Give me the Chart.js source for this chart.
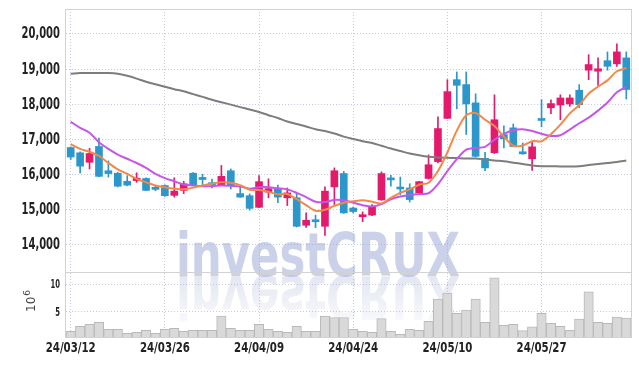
<!DOCTYPE html>
<html><head><meta charset="utf-8">
<script src="https://cdn.jsdelivr.net/npm/chart.js@4.4.1/dist/chart.umd.min.js"></script>
<style>html,body{margin:0;padding:0;background:#fff;}canvas{display:block;}</style>
</head><body>
<canvas id="c" width="639" height="366"></canvas>
<script>
const dates = ['24/03/12','24/03/13','24/03/14','24/03/15','24/03/18','24/03/19','24/03/20','24/03/21','24/03/22','24/03/25',
'24/03/26','24/03/27','24/03/28','24/03/29','24/04/01','24/04/02','24/04/03','24/04/04','24/04/05','24/04/08',
'24/04/09','24/04/11','24/04/12','24/04/15','24/04/16','24/04/17','24/04/18','24/04/19','24/04/22','24/04/23',
'24/04/24','24/04/25','24/04/26','24/04/29','24/04/30','24/05/02','24/05/03','24/05/07','24/05/08','24/05/09',
'24/05/10','24/05/13','24/05/14','24/05/16','24/05/17','24/05/20','24/05/21','24/05/22','24/05/23','24/05/24',
'24/05/27','24/05/28','24/05/29','24/05/30','24/05/31','24/06/03','24/06/04','24/06/05','24/06/07','24/06/10'];

const open = [16770,16620,16350,16800,16110,16040,15810,15830,15890,15640,15690,15410,15550,16040,15920,15770,15700,16110,15460,15400,15070,15500,15600,15340,15340,14560,14700,14530,15650,16030,15050,14800,14850,15280,15870,15620,15620,15480,15890,16370,17600,18700,18560,18040,16460,16620,17140,17330,16650,16450,17560,17900,17980,18010,18400,18970,18940,19240,19150,19320];
const high = [16790,16650,16750,17040,16390,16060,15970,16050,15910,15690,15710,15910,15810,16060,16010,15870,16260,16160,15670,15450,15970,15880,15700,15620,15480,14910,14850,15650,16190,16090,15080,14940,15150,16080,15980,15930,15740,15810,16560,17640,18700,18920,18920,18300,16630,18270,17390,17440,16900,16930,18130,18130,18270,18270,18560,19410,19320,19490,19720,19490];
const low = [16430,16050,16160,15940,15930,15650,15680,15780,15540,15540,15380,15360,15460,15690,15700,15620,15690,15590,15350,14990,15060,15340,15200,15120,14510,14500,14490,14270,15150,14900,14910,14660,14830,15270,15670,15430,15220,15470,15870,16330,17590,17870,17140,16500,16110,16600,16760,16790,16580,16120,17360,17730,17560,17940,17900,18700,18540,18970,19080,18150];
const close = [16500,16240,16600,15950,16030,15670,15700,15900,15550,15580,15400,15530,15740,15700,15860,15710,15950,15690,15360,15040,15800,15600,15360,15480,14530,14700,14660,15530,16110,14910,14950,14860,15080,16030,15850,15590,15290,15800,16280,17310,18360,18540,18010,16520,16190,17560,17020,16800,16590,16790,17540,18020,18180,18180,17990,19130,19010,19080,19490,18420];

const ma5 = [16870,16730,16650,16530,16330,16150,16020,15880,15780,15690,15640,15600,15580,15630,15690,15740,15780,15770,15700,15570,15560,15510,15440,15450,15300,15130,14970,15000,15110,15200,15240,15270,15230,15180,15340,15480,15580,15710,15770,16100,16630,17250,17690,17750,17560,17380,17080,16820,16830,16950,16950,17150,17420,17740,17980,18300,18500,18680,18940,19030];
const ma10 = [17500,17330,17190,16920,16730,16570,16450,16330,16190,16020,15900,15810,15720,15690,15670,15670,15690,15680,15660,15600,15640,15640,15610,15580,15480,15360,15230,15220,15280,15270,15200,15130,15090,15160,15300,15380,15420,15450,15470,15730,16100,16440,16710,16760,16790,16990,17160,17260,17290,17240,17160,17100,17120,17280,17460,17620,17820,18050,18340,18500];
const ma60 = [18870,18890,18890,18890,18890,18870,18810,18730,18640,18570,18500,18430,18370,18290,18210,18130,18060,17990,17920,17850,17780,17690,17610,17510,17440,17370,17290,17240,17170,17080,17010,16950,16900,16820,16740,16670,16600,16550,16510,16490,16480,16470,16460,16460,16430,16400,16380,16340,16300,16260,16240,16240,16230,16230,16240,16270,16300,16330,16360,16400];

const volume = [1.48,2.39,2.76,3.12,1.84,1.84,1.11,1.3,1.66,1.11,1.84,2.03,1.48,1.66,1.66,1.66,4.21,2.03,1.66,1.66,2.76,1.84,1.48,1.3,2.39,1.48,1.48,4.21,3.97,3.97,1.84,1.48,1.3,3.79,1.48,0.93,1.84,1.66,3.3,7.32,8.41,4.71,5.31,7.32,3.12,11.15,2.57,2.76,1.6,2.3,4.71,2.94,2.39,1.66,3.67,8.6,3.12,2.94,4.03,3.85];

const priceTicks = [14000,15000,16000,17000,18000,19000,20000];
const volumeTicks = [5,10];
const volumeUnit = '10';
const volumeExp = '6';
const watermark = 'investCRUX';

const RED = '#e41a6c', BLUE = '#2c97ca';
const candleColor = ctx => close[ctx.dataIndex] >= open[ctx.dataIndex] ? RED : BLUE;
const NARROW = '"Liberation Sans Narrow", "DejaVu Sans Condensed", "Liberation Sans", sans-serif';
const GRID = '#c6cade';

function drawFitted(ctx, text, x, y, sx, align) {
  ctx.save();
  ctx.translate(x, y);
  ctx.scale(sx, 1);
  ctx.textAlign = align;
  ctx.fillText(text, 0, 0);
  ctx.restore();
}

const decor = {
  id: 'decor',
  beforeDatasetsDraw(chart) {
    const {ctx, chartArea: a} = chart;
    ctx.save();
    ctx.beginPath(); ctx.rect(a.left, a.top, a.right - a.left, a.bottom - a.top); ctx.clip();
    ctx.font = 'bold 61px ' + NARROW;
    ctx.textBaseline = 'alphabetic';
    const w = ctx.measureText(watermark).width;
    const sx = 284 / w;
    ctx.translate(176, 276);
    ctx.scale(sx, 1);
    ctx.fillStyle = 'rgba(150,164,212,0.5)';
    ctx.fillText(watermark, 0, 0);
    ctx.scale(1, -1);
    const g = ctx.createLinearGradient(0, 0, 0, -45);
    g.addColorStop(0, 'rgba(165,174,210,0.3)');
    g.addColorStop(1, 'rgba(165,174,210,0.08)');
    ctx.fillStyle = g;
    ctx.fillText(watermark, 0, 0);
    ctx.restore();

    const y = chart.scales.y, yv = chart.scales.yv;
    ctx.save();
    ctx.strokeStyle = '#d2d2d2';
    ctx.lineWidth = 1;
    ctx.strokeRect(Math.round(a.left) - 0.5, Math.round(y.top) + 0.5, Math.round(a.right - a.left) + 1, Math.round(y.bottom - y.top));
    ctx.strokeRect(Math.round(a.left) - 0.5, Math.round(yv.top) + 0.5, Math.round(a.right - a.left) + 1, Math.round(yv.bottom - yv.top));
    ctx.restore();
  },
  afterDraw(chart) {
    const ctx = chart.ctx;
    const {x, y, yv} = chart.scales;
    ctx.save();
    ctx.fillStyle = '#222';
    ctx.textBaseline = 'middle';
    // price labels
    ctx.font = 'bold 15px ' + NARROW;
    let sx = 38.5 / ctx.measureText('20,000').width;
    priceTicks.forEach(v => drawFitted(ctx, v.toLocaleString('en-US'), 60, y.getPixelForValue(v) + 0.5, sx, 'right'));
    // volume labels
    ctx.font = 'bold 13px ' + NARROW;
    sx = 9.5 / ctx.measureText('10').width;
    volumeTicks.forEach(v => drawFitted(ctx, String(v), 60, yv.getPixelForValue(v) + 0.5, sx, 'right'));
    // date labels
    ctx.font = 'bold 14px ' + NARROW;
    sx = 50 / ctx.measureText('24/03/12').width;
    x.ticks.forEach(t => drawFitted(ctx, dates[t.value], x.getPixelForValue(t.value), 348, sx, 'center'));
    ctx.restore();

    ctx.save();
    ctx.translate(35, 312);
    ctx.rotate(-Math.PI / 2);
    ctx.fillStyle = '#444';
    ctx.textBaseline = 'alphabetic';
    ctx.font = '12px "DejaVu Sans", sans-serif';
    ctx.fillText(volumeUnit, 0, 0);
    const w = ctx.measureText(volumeUnit).width;
    ctx.font = '9px "DejaVu Sans", sans-serif';
    ctx.fillText(volumeExp, w + 1, -5);
    ctx.restore();
  }
};

new Chart(document.getElementById('c'), {
  type: 'bar',
  data: {
    labels: dates,
    datasets: [
      {type: 'line', data: ma5, borderColor: '#f08a4b', borderWidth: 2, pointRadius: 0, tension: 0.3, yAxisID: 'y', order: 0},
      {type: 'line', data: ma10, borderColor: '#c655ea', borderWidth: 2, pointRadius: 0, tension: 0.3, yAxisID: 'y', order: 0},
      {type: 'line', data: ma60, borderColor: '#7d7d7d', borderWidth: 2, pointRadius: 0, tension: 0.3, yAxisID: 'y', order: 0},
      {data: low.map((l, i) => [l, high[i]]), backgroundColor: candleColor, barThickness: 1, grouped: false, yAxisID: 'y', order: 1},
      {data: open.map((o, i) => [o, close[i]]), backgroundColor: candleColor, barThickness: 7, minBarLength: 2, grouped: false, yAxisID: 'y', order: 1},
      {data: volume, backgroundColor: '#d9d9d9', borderColor: '#b9b9b9', borderWidth: 1, barPercentage: 1, categoryPercentage: 1, grouped: false, yAxisID: 'yv', order: 2}
    ]
  },
  options: {
    responsive: false,
    animation: false,
    devicePixelRatio: 1,
    layout: {padding: {top: 9, right: 8, left: 0, bottom: 0}},
    plugins: {legend: {display: false}, tooltip: {enabled: false}},
    scales: {
      x: {
        type: 'category', offset: true,
        afterBuildTicks: s => { s.ticks = s.ticks.filter(t => t.value % 10 === 0); },
        afterFit: s => { s.height = 29; },
        grid: {offset: false, color: GRID, drawTicks: false},
        border: {display: false, dash: [1, 2]},
        ticks: {display: false, autoSkip: false, maxRotation: 0}
      },
      y: {
        type: 'linear', position: 'left', stack: 'p', stackWeight: 263, weight: 2,
        min: 13230, max: 20710,
        afterBuildTicks: s => { s.ticks = priceTicks.map(v => ({value: v})); },
        afterFit: s => { s.width = 66; },
        grid: {color: GRID, drawTicks: false},
        border: {display: false, dash: [1, 2]},
        ticks: {display: false}
      },
      yv: {
        type: 'linear', position: 'left', stack: 'p', stackWeight: 65, weight: 1,
        min: 0.45, max: 12.2,
        afterBuildTicks: s => { s.ticks = volumeTicks.map(v => ({value: v})); },
        afterFit: s => { s.width = 66; },
        grid: {color: GRID, drawTicks: false},
        border: {display: false, dash: [1, 2]},
        ticks: {display: false}
      }
    }
  },
  plugins: [decor]
});
</script>
</body></html>
